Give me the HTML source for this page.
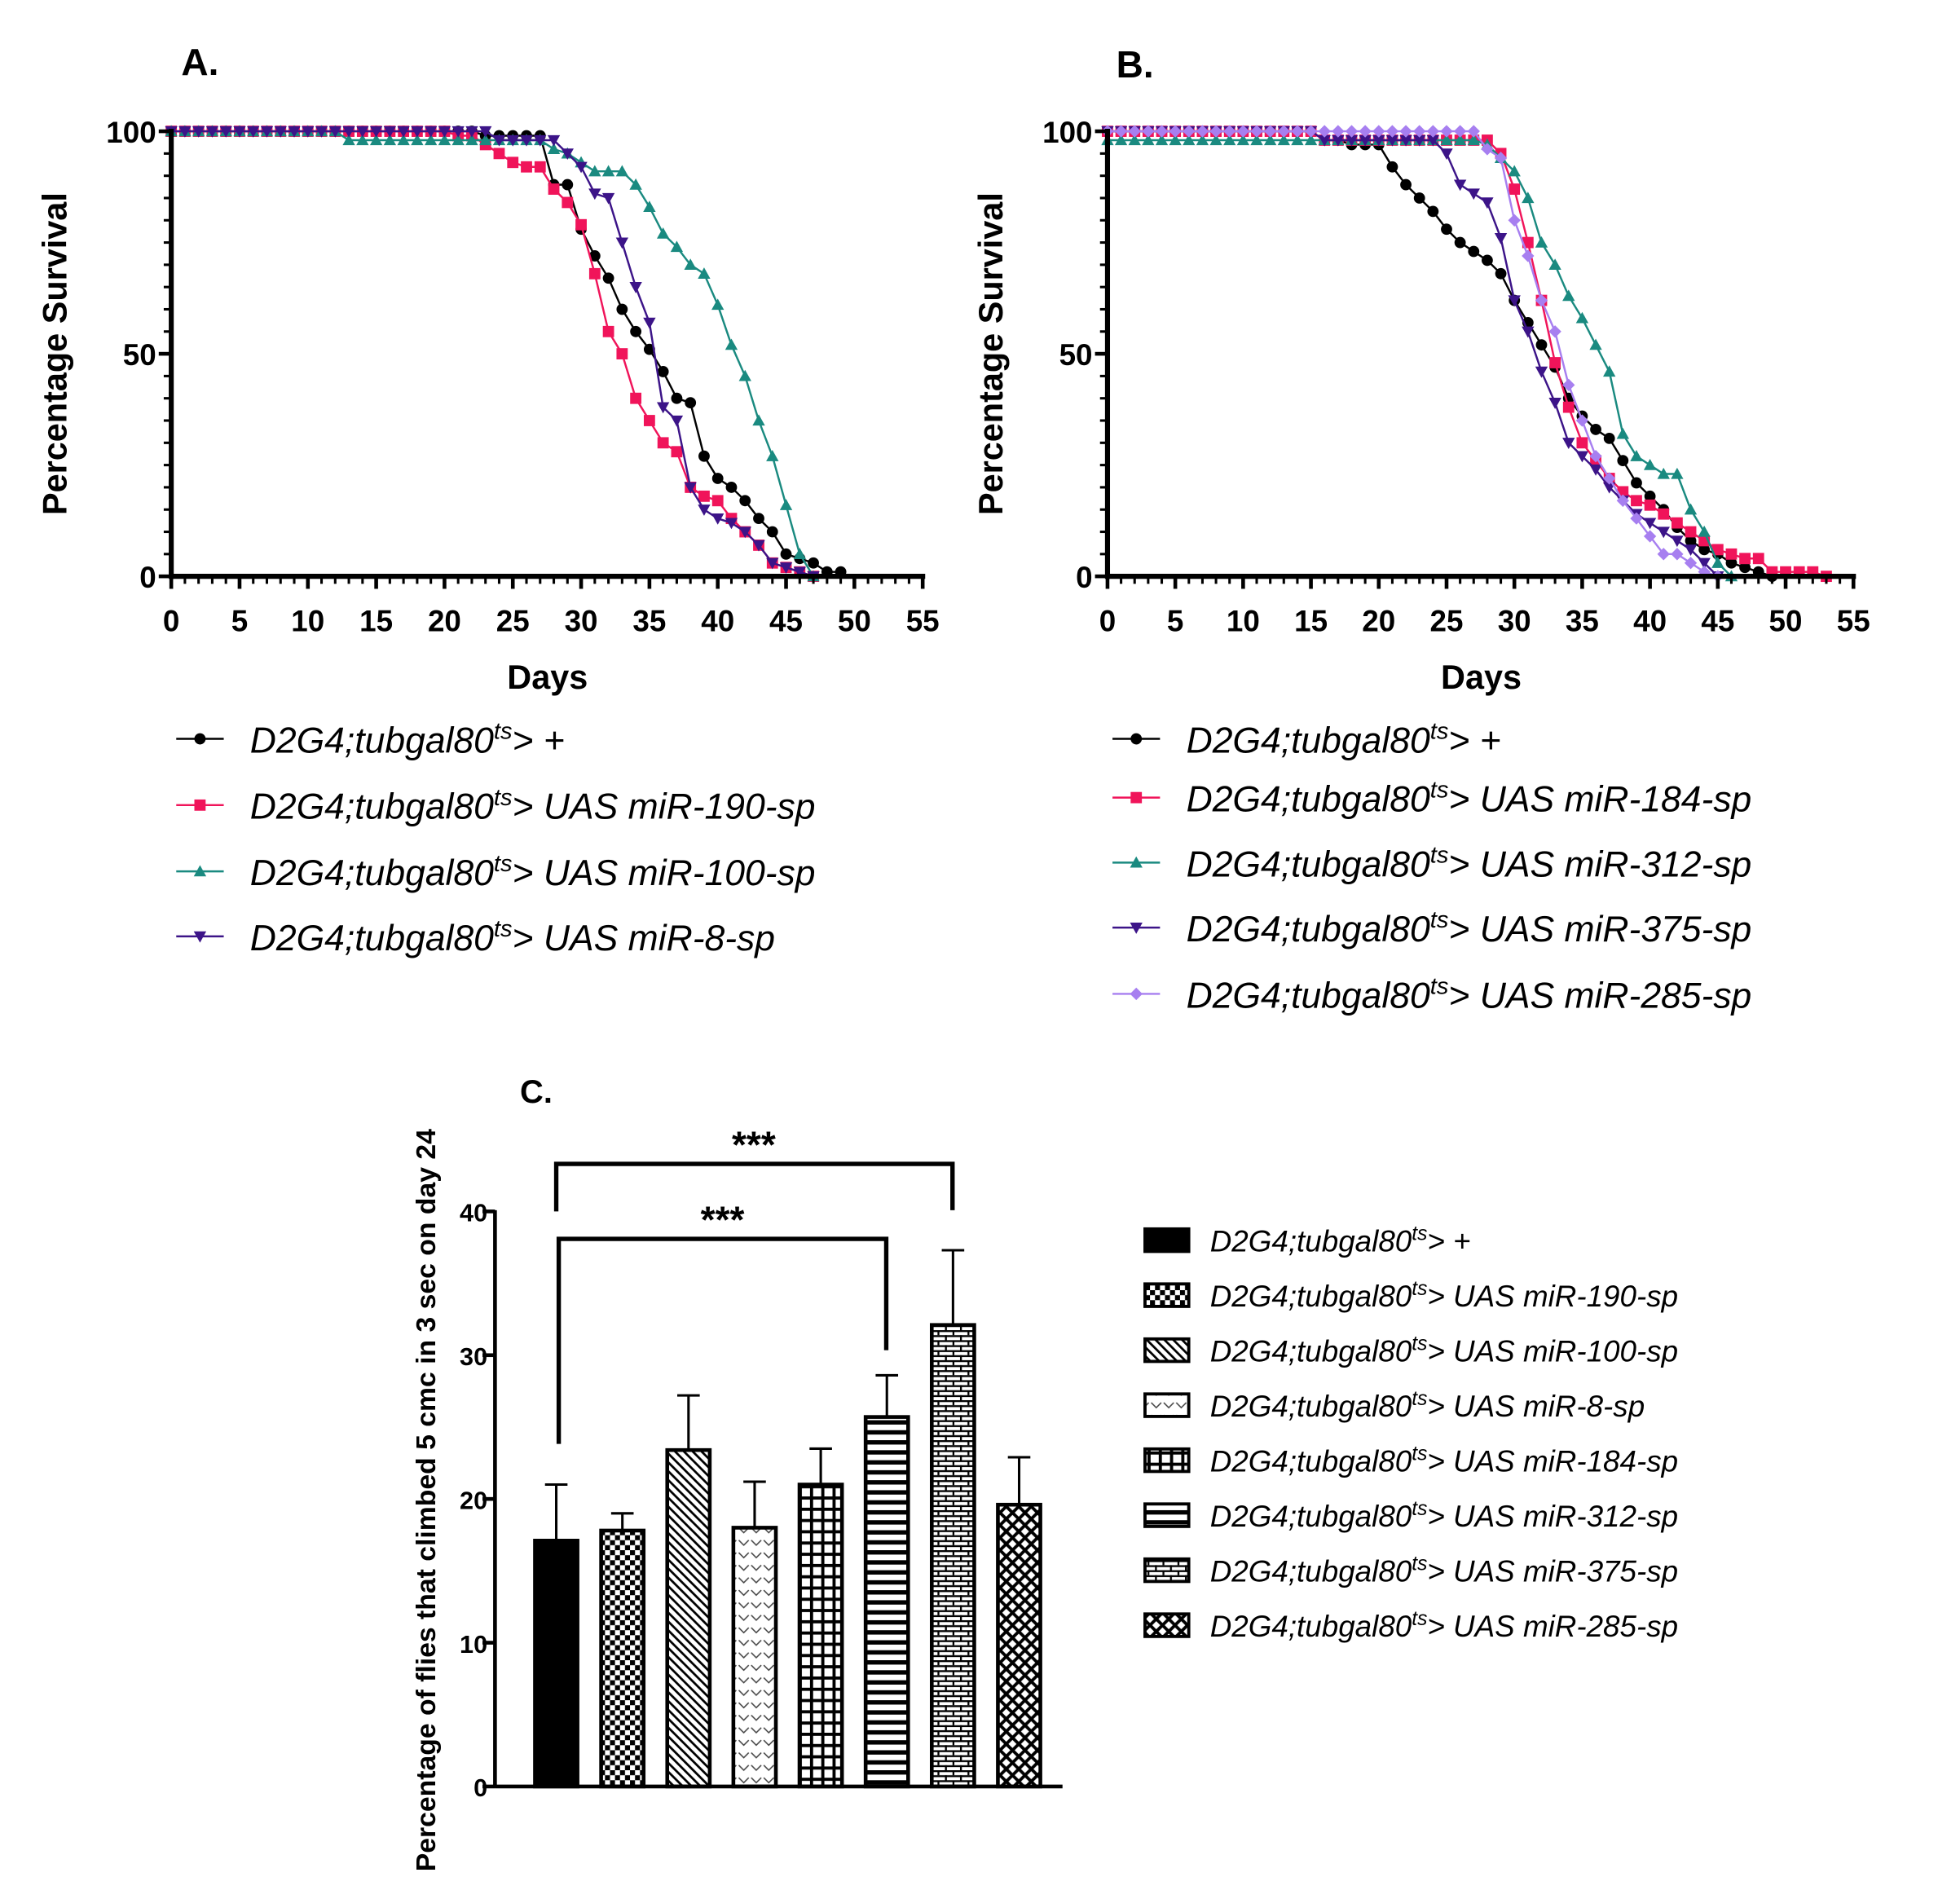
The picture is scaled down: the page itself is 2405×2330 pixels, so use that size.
<!DOCTYPE html>
<html><head><meta charset="utf-8"><style>
html,body{margin:0;padding:0;background:#fff}
svg{display:block}
text{font-family:"Liberation Sans",sans-serif}
.t{font-weight:bold;font-size:24px}
.lg{font-style:italic;font-size:29px}
.lc{font-style:italic;font-size:24px}
.ax{font-weight:bold;font-size:27px}
</style></head><body>
<svg id="s" width="2405" height="2330" viewBox="0 0 1568 1519" preserveAspectRatio="none" xmlns="http://www.w3.org/2000/svg">
<defs>
<pattern id="p1" width="8" height="8" patternUnits="userSpaceOnUse"><rect width="8" height="8" fill="#fff"/><rect width="4" height="4" fill="#000"/><rect x="4" y="4" width="4" height="4" fill="#000"/></pattern>
<pattern id="p2" width="5" height="5" patternUnits="userSpaceOnUse" patternTransform="rotate(-45)"><rect width="5" height="5" fill="#fff"/><rect width="1.8" height="5" fill="#000"/></pattern>
<pattern id="p3" width="10" height="10" patternUnits="userSpaceOnUse"><rect width="10" height="10" fill="#fff"/><path d="M1 2 L5 6 L9 2" stroke="#444" stroke-width="1" fill="none"/></pattern>
<pattern id="p4" width="9" height="9" patternUnits="userSpaceOnUse"><rect width="9" height="9" fill="#fff"/><rect width="2.5" height="9" fill="#000"/><rect width="9" height="2.5" fill="#000"/></pattern>
<pattern id="p5" width="8" height="8" patternUnits="userSpaceOnUse"><rect width="8" height="8" fill="#fff"/><rect width="8" height="3.5" fill="#000"/></pattern>
<pattern id="p6" width="12" height="8" patternUnits="userSpaceOnUse"><rect width="12" height="8" fill="#fff"/><rect width="12" height="1.5" fill="#000"/><rect x="6" y="0" width="1.5" height="4" fill="#000"/><rect x="0" y="4" width="12" height="1.5" fill="#000"/><rect x="0" y="4" width="1.5" height="4" fill="#000"/></pattern>
<pattern id="p7" width="10" height="10" patternUnits="userSpaceOnUse"><rect width="10" height="10" fill="#fff"/><path d="M0 0L10 10M10 0L0 10" stroke="#000" stroke-width="2.5"/></pattern>
</defs>
<text x="145" y="60" class="t" style="font-size:30px">A.</text>
<text x="893" y="62" class="t" style="font-size:30px">B.</text>
<text x="416" y="882" class="t" style="font-size:26px">C.</text>
<g id="A"></g><g id="B"></g>
<text class="ax" transform="translate(53,283) rotate(-90)" text-anchor="middle">Percentage Survival</text>
<text class="ax" transform="translate(802,283) rotate(-90)" text-anchor="middle">Percentage Survival</text>
<text class="ax" x="438" y="551" text-anchor="middle">Days</text>
<text class="ax" x="1185" y="551" text-anchor="middle">Days</text>
<g class="lg">
<text x="200" y="602">D2G4;tubgal80<tspan dy="-11" font-size="19">ts</tspan><tspan dy="11">&gt; +</tspan></text>
<text x="200" y="655">D2G4;tubgal80<tspan dy="-11" font-size="19">ts</tspan><tspan dy="11">&gt; UAS miR-190-sp</tspan></text>
<text x="200" y="708">D2G4;tubgal80<tspan dy="-11" font-size="19">ts</tspan><tspan dy="11">&gt; UAS miR-100-sp</tspan></text>
<text x="200" y="760">D2G4;tubgal80<tspan dy="-11" font-size="19">ts</tspan><tspan dy="11">&gt; UAS miR-8-sp</tspan></text>
<text x="949" y="602">D2G4;tubgal80<tspan dy="-11" font-size="19">ts</tspan><tspan dy="11">&gt; +</tspan></text>
<text x="949" y="649">D2G4;tubgal80<tspan dy="-11" font-size="19">ts</tspan><tspan dy="11">&gt; UAS miR-184-sp</tspan></text>
<text x="949" y="701">D2G4;tubgal80<tspan dy="-11" font-size="19">ts</tspan><tspan dy="11">&gt; UAS miR-312-sp</tspan></text>
<text x="949" y="753">D2G4;tubgal80<tspan dy="-11" font-size="19">ts</tspan><tspan dy="11">&gt; UAS miR-375-sp</tspan></text>
<text x="949" y="806">D2G4;tubgal80<tspan dy="-11" font-size="19">ts</tspan><tspan dy="11">&gt; UAS miR-285-sp</tspan></text>
</g>
<g id="C"></g>
<text transform="translate(348,1200) rotate(-90)" text-anchor="middle" style="font-weight:bold;font-size:22px">Percentage of flies that climbed 5 cmc in 3 sec on day 24</text>
<text x="603" y="926" text-anchor="middle" style="font-weight:bold;font-size:30px">***</text>
<text x="578" y="986" text-anchor="middle" style="font-weight:bold;font-size:30px">***</text>
<g class="lc">
<text x="968" y="1001">D2G4;tubgal80<tspan dy="-9" font-size="16">ts</tspan><tspan dy="9">&gt; +</tspan></text>
<text x="968" y="1045">D2G4;tubgal80<tspan dy="-9" font-size="16">ts</tspan><tspan dy="9">&gt; UAS miR-190-sp</tspan></text>
<text x="968" y="1089">D2G4;tubgal80<tspan dy="-9" font-size="16">ts</tspan><tspan dy="9">&gt; UAS miR-100-sp</tspan></text>
<text x="968" y="1133">D2G4;tubgal80<tspan dy="-9" font-size="16">ts</tspan><tspan dy="9">&gt; UAS miR-8-sp</tspan></text>
<text x="968" y="1177">D2G4;tubgal80<tspan dy="-9" font-size="16">ts</tspan><tspan dy="9">&gt; UAS miR-184-sp</tspan></text>
<text x="968" y="1221">D2G4;tubgal80<tspan dy="-9" font-size="16">ts</tspan><tspan dy="9">&gt; UAS miR-312-sp</tspan></text>
<text x="968" y="1265">D2G4;tubgal80<tspan dy="-9" font-size="16">ts</tspan><tspan dy="9">&gt; UAS miR-375-sp</tspan></text>
<text x="968" y="1309">D2G4;tubgal80<tspan dy="-9" font-size="16">ts</tspan><tspan dy="9">&gt; UAS miR-285-sp</tspan></text>
</g>
<g style="font-weight:bold;font-size:20px" text-anchor="end">
<text x="390" y="977">40</text><text x="390" y="1092">30</text><text x="390" y="1207">20</text><text x="390" y="1322">10</text><text x="390" y="1437">0</text>
</g>
</svg>
<script>
var NS="http://www.w3.org/2000/svg";
function el(p,t,a){var e=document.createElementNS(NS,t);for(var k in a)e.setAttribute(k,a[k]);p.appendChild(e);return e;}
function marker(g,type,x,y,c){
 if(type=="o")el(g,"circle",{cx:x,cy:y,r:4.5,fill:c});
 else if(type=="s")el(g,"rect",{x:x-4.5,y:y-4.5,width:9,height:9,fill:c});
 else if(type=="^")el(g,"polygon",{points:(x-5)+","+(y+4)+" "+(x+5)+","+(y+4)+" "+x+","+(y-5),fill:c});
 else if(type=="v")el(g,"polygon",{points:(x-5)+","+(y-4)+" "+(x+5)+","+(y-4)+" "+x+","+(y+5),fill:c});
 else el(g,"polygon",{points:x+","+(y-5)+" "+(x+5)+","+y+" "+x+","+(y+5)+" "+(x-5)+","+y,fill:c});
}
function panel(id,x0,xs,series,legY,legX){
 var g=document.getElementById(id);var y0=461,ys=3.56;
 series.forEach(function(s,si){
  var pts=s.d.map(function(p){return [x0+p[0]*xs,y0-p[1]*ys];});
  el(g,"polyline",{points:pts.map(function(p){return p.join(",")}).join(" "),fill:"none",stroke:s.c,"stroke-width":1.6});
  pts.forEach(function(p){marker(g,s.m,p[0],p[1],s.c);});
  el(g,"line",{x1:legX,x2:legX+38,y1:legY[si],y2:legY[si],stroke:s.c,"stroke-width":1.6});
  marker(g,s.m,legX+19,legY[si],s.c);
 });
 el(g,"line",{x1:x0,x2:x0+55*xs+2,y1:y0,y2:y0,stroke:"#000","stroke-width":4});
 el(g,"line",{x1:x0,x2:x0,y1:103,y2:y0+2,stroke:"#000","stroke-width":4});
 for(var i=0;i<=55;i++){var x=x0+i*xs;el(g,"line",{x1:x,x2:x,y1:y0,y2:y0+(i%5==0?10:6),stroke:"#000","stroke-width":i%5==0?3:2});
  if(i%5==0){var t=el(g,"text",{x:x,y:y0+44,"text-anchor":"middle",style:"font-weight:bold;font-size:24px"});t.textContent=i;}}
 for(var j=0;j<=100;j+=5){var y=y0-j*ys;el(g,"line",{x1:x0-(j%50==0?10:6),x2:x0,y1:y,y2:y,stroke:"#000","stroke-width":j%50==0?3:2});}
 [[100,"100"],[50,"50"],[0,"0"]].forEach(function(a){var t=el(g,"text",{x:x0-12,y:y0-a[0]*ys+9,"text-anchor":"end",style:"font-weight:bold;font-size:24px"});t.textContent=a[1];});
}
function flat(a,b,v){var r=[];for(var i=a;i<=b;i++)r.push([i,v]);return r;}
function seq(start,vals){return vals.map(function(v,i){return [start+i,v];});}
var A=[
 {c:"#000",m:"o",d:flat(0,22,100).concat(seq(23,[99,99,99,99,99,88,88,78,72,67,60,55,51,46,40,39,27,22,20,17,13,10,5,4,3,1,1]))},
 {c:"#f0145a",m:"s",d:flat(0,20,100).concat(seq(21,[99,99,97,95,93,92,92,87,84,79,68,55,50,40,35,30,28,20,18,17,13,10,7,3,2,1,0]))},
 {c:"#1a8a80",m:"^",d:flat(0,12,100).concat(flat(13,27,98)).concat(seq(28,[96,95,93,91,91,91,88,83,77,74,70,68,61,52,45,35,27,16,5,0]))},
 {c:"#3c1488",m:"v",d:flat(0,23,100).concat(seq(24,[98,98,98,98,98,95,92,86,85,75,65,57,38,35,20,15,13,12,10,7,3,2,1,0]))}
];
var B=[
 {c:"#000",m:"o",d:flat(0,15,100).concat(seq(16,[98,98,97,97,97,92,88,85,82,78,75,73,71,68,62,57,52,47,40,36,33,31,26,21,18,15,11,8,6,5,3,2,1,0]))},
 {c:"#f0145a",m:"s",d:flat(0,15,100).concat(flat(16,28,98)).concat(seq(29,[95,87,75,62,48,38,30,26,22,19,17,16,14,12,10,8,6,5,4,4,1,1,1,1,0]))},
 {c:"#1a8a80",m:"^",d:flat(0,15,98).concat(flat(16,27,98)).concat(seq(28,[97,94,91,85,75,70,63,58,52,46,32,27,25,23,23,15,10,3,0]))},
 {c:"#3c1488",m:"v",d:flat(0,15,100).concat(flat(16,24,98)).concat(seq(25,[95,88,86,84,76,62,55,46,39,30,27,24,20,17,14,12,10,8,6,3,0]))},
 {c:"#a77ff0",m:"d",d:flat(0,27,100).concat(seq(28,[96,94,80,72,62,55,43,35,27,22,17,13,9,5,5,3,1,0]))}
];
panel("A",137,10.93,A,[591,644,697,749],141);
panel("B",886,10.85,B,[591,638,690,742,795],890);
var C=document.getElementById("C");var cy0=1429,cs=11.5;
var fills=["#000","url(#p1)","url(#p2)","url(#p3)","url(#p4)","url(#p5)","url(#p6)","url(#p7)"];
var vals=[17.1,17.8,23.4,18.0,21.0,25.7,32.1,19.6],errs=[21,19,27.2,21.2,23.5,28.6,37.3,22.9];
vals.forEach(function(v,i){var cx=445+i*52.9;
 el(C,"line",{x1:cx,x2:cx,y1:cy0-errs[i]*cs,y2:cy0-v*cs,stroke:"#000","stroke-width":2});
 el(C,"line",{x1:cx-9,x2:cx+9,y1:cy0-errs[i]*cs,y2:cy0-errs[i]*cs,stroke:"#000","stroke-width":2});
 el(C,"rect",{x:cx-17,y:cy0-v*cs,width:34,height:v*cs,fill:fills[i],stroke:"#000","stroke-width":3});
 el(C,"rect",{x:916,y:983+i*44,width:35,height:18,fill:fills[i],stroke:"#000","stroke-width":2.5});
});
el(C,"line",{x1:396,x2:850,y1:cy0,y2:cy0,stroke:"#000","stroke-width":3});
el(C,"line",{x1:396,x2:396,y1:968,y2:cy0+1,stroke:"#000","stroke-width":3});
for(var j=0;j<=40;j+=10){el(C,"line",{x1:386,x2:396,y1:cy0-j*cs,y2:cy0-j*cs,stroke:"#000","stroke-width":3});}
el(C,"polyline",{points:"445,969 445,931 762,931 762,968",fill:"none",stroke:"#000","stroke-width":3.5});
el(C,"polyline",{points:"447,1155 447,991 709,991 709,1080",fill:"none",stroke:"#000","stroke-width":3.5});
</script>
</body></html>
